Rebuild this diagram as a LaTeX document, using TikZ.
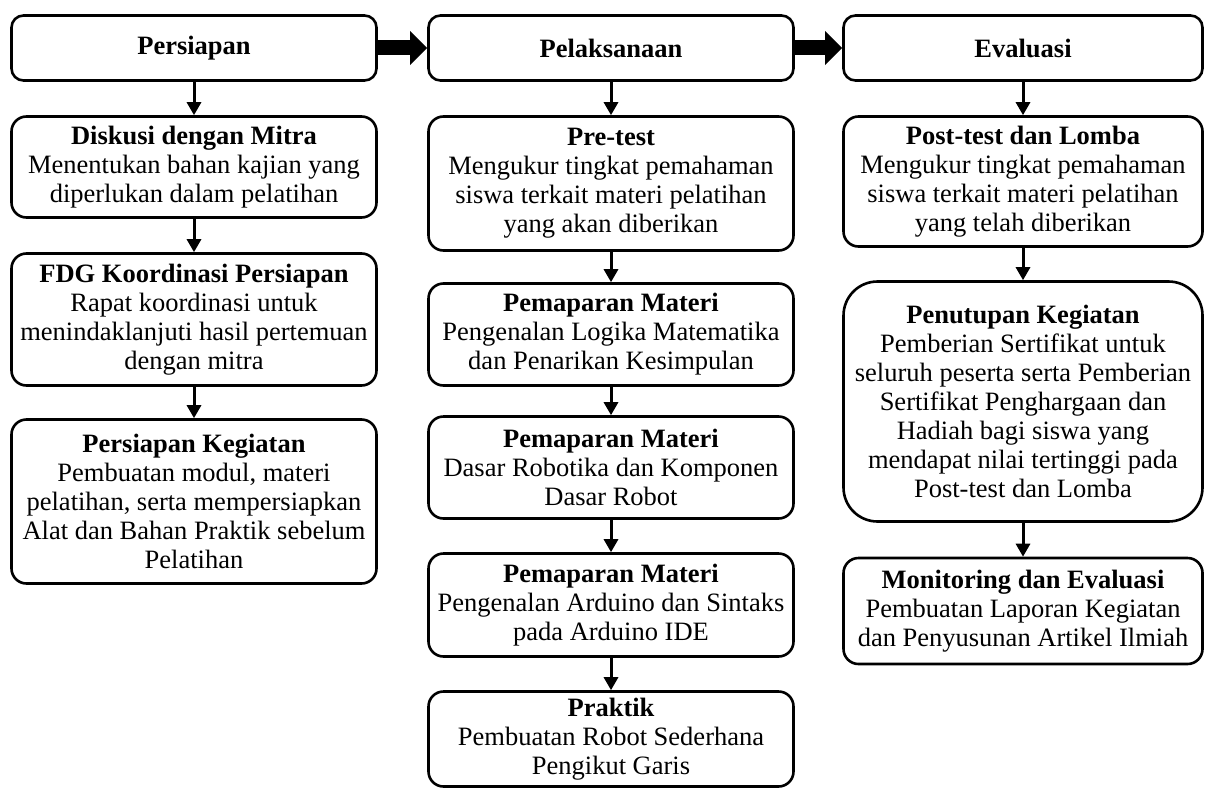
\documentclass[tikz,border=0pt]{standalone}
\usepackage{fontspec}
\setmainfont{Liberation Serif}
\usepackage{tikz}
\usetikzlibrary{arrows.meta}

\begin{document}
\begin{tikzpicture}[
  x=1pt,
  y=-1pt,
  font=\fontsize{26.5}{29}\selectfont
]

  \path[use as bounding box] (0,0) rectangle (1206,792);

  \tikzstyle{headnode}=[draw,rectangle,rounded corners=12pt,line width=2.6pt,minimum height=65pt,inner sep=2pt,font=\fontsize{26.5}{29}\selectfont\bfseries]
  \tikzstyle{stepnode}=[draw,rectangle,rounded corners=15pt,line width=2.6pt,inner sep=2pt,align=center]
  \tikzstyle{colA}=[minimum width=365pt]
  \tikzstyle{colC}=[minimum width=359pt]

  \tikzstyle{pointer}=[draw,line width=3pt,-{Triangle[width=14pt,length=13pt]}]
  \tikzstyle{bigpointer}=[draw,line width=15pt,-{Triangle[width=33pt,length=17pt]}]

  % headers
  \node[headnode,colA] (persiapan) at (194,48) {Persiapan};
  \node[headnode,colA] (pelaksanaan) at (611,48) {Pelaksanaan};
  \node[headnode,colC] (evaluasi) at (1023,48) {Evaluasi};

  % persiapan
  \node[stepnode,colA,minimum height=101pt] (diskusi) at (194,167) {\textbf{Diskusi dengan Mitra}\\Menentukan bahan kajian yang\\diperlukan dalam pelatihan};
  \node[stepnode,colA,minimum height=132pt] (fdg) at (194,319.5) {\textbf{FDG Koordinasi Persiapan}\\Rapat koordinasi untuk\\menindaklanjuti hasil pertemuan\\dengan mitra};
  \node[stepnode,colA,minimum height=164pt] (kegiatan) at (194,501.5) {\textbf{Persiapan Kegiatan}\\Pembuatan modul, materi\\pelatihan, serta mempersiapkan\\Alat dan Bahan Praktik sebelum\\Pelatihan};

  % pelaksanaan
  \node[stepnode,colA,minimum height=134pt] (pretest) at (611,183.5) {\textbf{Pre-test}\\Mengukur tingkat pemahaman\\siswa terkait materi pelatihan\\yang akan diberikan};
  \node[stepnode,colA,minimum height=102pt] (materi1) at (611,334.5) {\textbf{Pemaparan Materi}\\Pengenalan Logika Matematika\\dan Penarikan Kesimpulan};
  \node[stepnode,colA,minimum height=102pt] (materi2) at (611,467.5) {\textbf{Pemaparan Materi}\\Dasar Robotika dan Komponen\\Dasar Robot};
  \node[stepnode,colA,minimum height=103pt] (materi3) at (611,605) {\textbf{Pemaparan Materi}\\Pengenalan Arduino dan Sintaks\\pada Arduino IDE};
  \node[stepnode,colA,minimum height=95pt] (praktik) at (611,739) {\textbf{Praktik}\\Pembuatan Robot Sederhana\\Pengikut Garis};

  % evaluasi
  \node[stepnode,colC,minimum height=130pt] (posttest) at (1023,181.5) {\textbf{Post-test dan Lomba}\\Mengukur tingkat pemahaman\\siswa terkait materi pelatihan\\yang telah diberikan};
  \node[stepnode,colC,rounded corners=34pt,minimum height=240pt] (penutupan) at (1023,401.5) {\textbf{Penutupan Kegiatan}\\Pemberian Sertifikat untuk\\seluruh peserta serta Pemberian\\Sertifikat Penghargaan dan\\Hadiah bagi siswa yang\\mendapat nilai tertinggi pada\\Post-test dan Lomba};
  \node[stepnode,colC,minimum height=106pt] (monev) at (1023,611) {\textbf{Monitoring dan Evaluasi}\\Pembuatan Laporan Kegiatan\\dan Penyusunan Artikel Ilmiah};

  % pointers
  \draw[bigpointer] (persiapan) -- (pelaksanaan);
  \draw[bigpointer] (pelaksanaan) -- (evaluasi);

  \draw[pointer] (persiapan) -- (diskusi);
  \draw[pointer] (diskusi) -- (fdg);
  \draw[pointer] (fdg) -- (kegiatan);

  \draw[pointer] (pelaksanaan) -- (pretest);
  \draw[pointer] (pretest) -- (materi1);
  \draw[pointer] (materi1) -- (materi2);
  \draw[pointer] (materi2) -- (materi3);
  \draw[pointer] (materi3) -- (praktik);

  \draw[pointer] (evaluasi) -- (posttest);
  \draw[pointer] (posttest) -- (penutupan);
  \draw[pointer] (penutupan) -- (monev);

\end{tikzpicture}
\end{document}
